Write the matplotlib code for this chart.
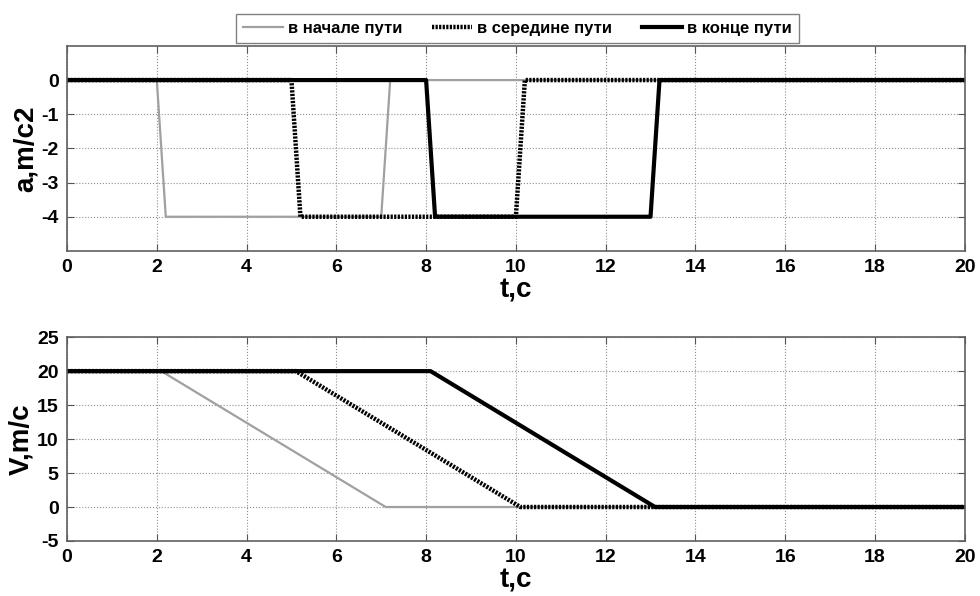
import matplotlib
matplotlib.use('Agg')
import matplotlib.pyplot as plt

plt.rcParams['font.family'] = ['Liberation Sans', 'DejaVu Sans']
plt.rcParams['font.weight'] = 'bold'
plt.rcParams['axes.unicode_minus'] = False

labels = ['в начале пути', 'в середине пути', 'в конце пути']

# ускорение
t_a_start = [0, 2.0, 2.2, 7.0, 7.2, 20]
a_start = [0, 0, -4, -4, 0, 0]
t_a_mid = [0, 5.0, 5.2, 10.0, 10.2, 20]
a_mid = [0, 0, -4, -4, 0, 0]
t_a_end = [0, 8.0, 8.2, 13.0, 13.2, 20]
a_end = [0, 0, -4, -4, 0, 0]

# скорость
t_v_start = [0, 2.1, 7.1, 20]
v_start = [20, 20, 0, 0]
t_v_mid = [0, 5.1, 10.1, 20]
v_mid = [20, 20, 0, 0]
t_v_end = [0, 8.1, 13.1, 20]
v_end = [20, 20, 0, 0]

styles = [dict(color='#a0a0a0', lw=1.6, ls='-'),
          dict(color='black', lw=3.2, ls=(0, (0.5, 0.3))),
          dict(color='black', lw=3.0, ls='-')]

fig = plt.figure(figsize=(9.8, 5.96), dpi=100)
ax1 = fig.add_axes([0.0684, 0.579, 0.916, 0.344])
ax2 = fig.add_axes([0.0684, 0.0923, 0.916, 0.342])

lines = []
for t, a, st, lb in zip([t_a_start, t_a_mid, t_a_end], [a_start, a_mid, a_end], styles, labels):
    l, = ax1.plot(t, a, label=lb, **st)
    lines.append(l)
for t, v, st in zip([t_v_start, t_v_mid, t_v_end], [v_start, v_mid, v_end], styles):
    ax2.plot(t, v, **st)

ax1.set_xlim(0, 20)
ax1.set_ylim(-5, 1)
ax1.set_yticks([-4, -3, -2, -1, 0])
ax2.set_xlim(0, 20)
ax2.set_ylim(-5, 25)
ax2.set_yticks([-5, 0, 5, 10, 15, 20, 25])

for ax, yl in [(ax1, 'a,m/c2'), (ax2, 'V,m/c')]:
    ax.set_xticks(range(0, 21, 2))
    ax.grid(True, color='#909090', ls=':', lw=0.8)
    ax.tick_params(direction='in', top=True, right=True, labelsize=14, length=5, color='#555555', pad=6)
    for s in ax.spines.values():
        s.set_color('#606060')
        s.set_linewidth(1.2)
    ax.set_xlabel('t,c', fontsize=20, fontweight='bold', labelpad=1)
    ax.set_ylabel(yl, fontsize=20, fontweight='bold', labelpad=2)

fig.legend(handles=lines, loc='upper center', bbox_to_anchor=(0.528, 0.99), ncol=3,
           frameon=True, fancybox=False, edgecolor='#606060',
           handlelength=2.4, handletextpad=0.3, columnspacing=1.8, borderpad=0.4,
           prop={'weight': 'bold', 'size': 12})

fig.savefig('out.png', dpi=100)
